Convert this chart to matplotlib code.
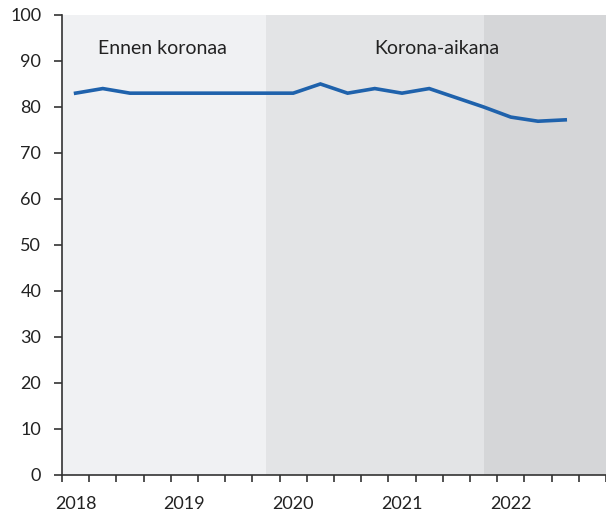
import matplotlib
matplotlib.use("Agg")
import matplotlib.pyplot as plt
import numpy as np

quarters = ["2018Q1","2018Q2","2018Q3","2018Q4","2019Q1","2019Q2","2019Q3","2019Q4",
            "2020Q1","2020Q2","2020Q3","2020Q4","2021Q1","2021Q2","2021Q3","2021Q4",
            "2022Q1","2022Q2","2022Q3","2022Q4"]
values = [83, 84, 83, 83, 83, 83, 83, 83, 83, 85, 83, 84, 83, 84, 82, 80, 77.8, 76.9, 77.2]
year_labels = ["2018", "2019", "2020", "2021", "2022"]
year_positions = [0, 4, 8, 12, 16]
phase_bounds = [-0.5, 7, 15, 19.5]
phase_colors = ["#f0f1f3", "#e3e4e6", "#d5d6d8"]
annotations = ["Ennen koronaa", "Korona-aikana"]
yticks = list(range(0, 101, 10))

plt.rcParams['font.family'] = ['Lato', 'DejaVu Sans']

fig = plt.figure(figsize=(6.06, 5.16), dpi=100)
ax = fig.add_axes([0.1023, 0.0795, 0.8977, 0.8915])

for i in range(3):
    ax.axvspan(phase_bounds[i], phase_bounds[i+1], color=phase_colors[i], lw=0, zorder=0)

x = np.arange(len(values))
ax.plot(x, values, color="#1f62ac", lw=2.6, zorder=3, solid_joinstyle='miter')

ax.set_xlim(-0.5, len(quarters) - 0.5)
ax.set_ylim(0, 100)
ax.set_yticks(yticks)
ax.set_xticks(np.arange(-0.5, len(quarters), 1.0))
ax.set_xticklabels([])
ax.set_xticks(year_positions, minor=True)
ax.set_xticklabels(year_labels, minor=True)
ax.tick_params(axis='x', which='major', direction='out', length=5, width=1.2, color="#333333")
ax.tick_params(axis='x', which='minor', length=0, pad=15, labelsize=13, labelcolor="#222222")
ax.tick_params(axis='y', direction='out', length=6, width=1.2, color="#333333", labelsize=13, labelcolor="#222222", pad=9)

for s in ['top', 'right']:
    ax.spines[s].set_visible(False)
for s in ['left', 'bottom']:
    ax.spines[s].set_color("#333333")
    ax.spines[s].set_linewidth(1.2)

ax.text(3.18, 92.8, annotations[0], ha='center', va='center', fontsize=14, color="#222222")
ax.text(13.27, 92.8, annotations[1], ha='center', va='center', fontsize=14, color="#222222")

fig.savefig("out.png", dpi=100)
